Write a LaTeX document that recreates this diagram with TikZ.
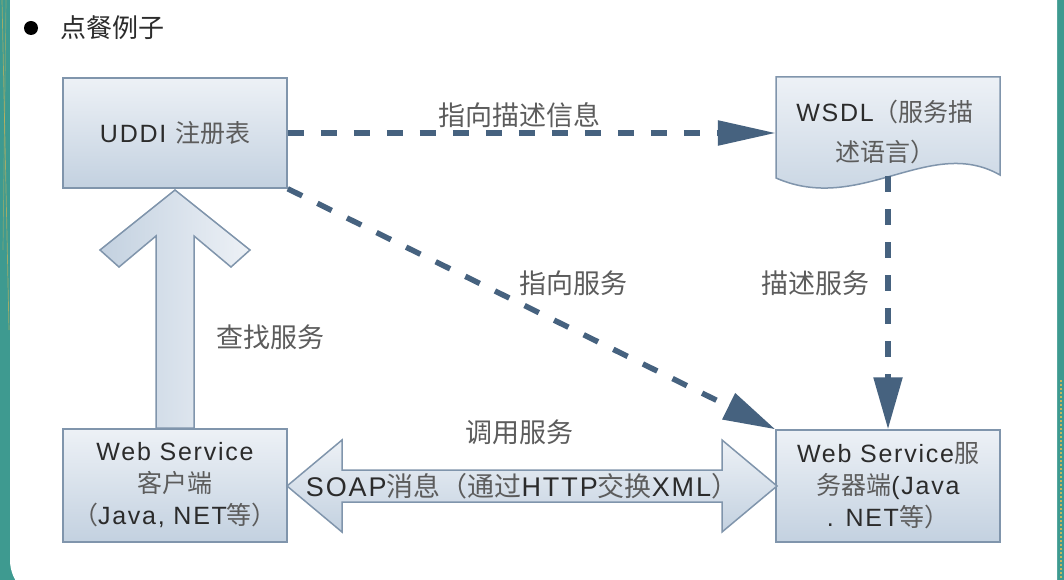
\documentclass[tikz,border=0pt]{standalone}
\usepackage{fontspec}
\setmainfont{Liberation Sans}[LetterSpace=7]
\newfontfamily\cjk{Noto Sans CJK SC}
\usetikzlibrary{arrows.meta}
\definecolor{teal1}{HTML}{3E9A90}
\definecolor{gold1}{HTML}{C9B45A}
\definecolor{arr}{HTML}{46627F}
\definecolor{bord}{HTML}{8095AC}
\definecolor{boxtop}{HTML}{EDF1F6}
\definecolor{boxbot}{HTML}{C3D1E0}
\definecolor{zhgray}{HTML}{5C5C5C}
\definecolor{txt}{HTML}{2B2B2B}
\newcommand\zh[1]{{\cjk\color{zhgray}#1}}
\begin{document}
\begin{tikzpicture}[x=1pt,y=-1pt,
  box/.style={draw=bord,line width=1.5pt,top color=boxtop,bottom color=boxbot,minimum width=224pt,inner sep=0pt,align=center,text=txt,font=\fontsize{25}{32}\selectfont},
  blockarrow/.style={draw=bord,line width=1.5pt},
  lab/.style={font=\cjk\fontsize{27}{30}\selectfont,text=zhgray,inner sep=0pt},
  dasharrow/.style={draw=arr,line width=5.5pt,dash pattern=on 16pt off 17pt,-{Triangle[length=52pt,width=28pt]}}
]
\useasboundingbox (0,0) rectangle (1064,580);
\clip (0,0) rectangle (1064,580);
% background
\fill[teal1] (0,0) rectangle (1064,580);
\draw[gold1,line width=0.7pt,opacity=0.7] (2,0) -- (9,330);
\draw[gold1,line width=0.7pt,opacity=0.5] (6,0) -- (3,250);
\draw[gold1,line width=1.5pt,dash pattern=on 2pt off 2pt] (1061,380) -- (1061,580);
\fill[white] (1057,-10) -- (10,-10) [rounded corners=40pt] -- (10,600) [sharp corners] -- (1057,600) -- cycle;

% title
\node[circle,fill=black,minimum size=14pt,inner sep=0pt] (bul) at (31,28) {};
\node[font=\cjk\fontsize{26}{30}\selectfont,text=txt,anchor=west,inner sep=0pt] (title) at (60,28) {点餐例子};

% boxes
\node[box,minimum height=110pt] (uddi) at (175,133) {UDDI \zh{注册表}};
\node[box,minimum height=113pt] (client) at (175,485.5) {Web Service\\\zh{客户端}\\\zh{（}Java, NET\zh{等）}};
\node[box,minimum height=112pt] (server) at (888,486) {Web Service\zh{服}\\\zh{务器端}(Java\\. NET\zh{等）}};

% WSDL document shape
\path[draw=bord,line width=1.5pt,top color=boxtop,bottom color=boxbot] (776,77) -- (1000,77) -- (1000,175) .. controls (930,135) and (860,215) .. (776,178) -- cycle;
\node[inner sep=0pt,minimum width=224pt,minimum height=101pt] (wsdl) at (888,127.5) {};
\node[align=center,inner sep=0pt,text=txt,font=\fontsize{25}{40}\selectfont] (wsdltext) at (885,132) {WSDL\zh{（服务描}\\\zh{述语言）}};
\coordinate (wsdlb) at (888,176);

% block arrows
\draw[blockarrow,left color=boxbot,right color=boxtop] (156,428) -- (156,236) -- (119,267) -- (100,250) -- (175,190) -- (250,250) -- (231,267) -- (194,236) -- (194,428) -- cycle;
\draw[blockarrow,top color=boxtop,bottom color=boxbot] (287,486) -- (342,440) -- (342,470) -- (722,470) -- (722,440) -- (777,486) -- (722,532) -- (722,502) -- (342,502) -- (342,532) -- cycle;
\node[font=\fontsize{27}{30}\selectfont,text=txt,inner sep=0pt] (soap) at (522,486) {SOAP\zh{消息（通过}HTTP\zh{交换}XML\zh{）}};

% dashed connectors
\draw[dasharrow,-{Triangle[length=58pt,width=24pt]}] (uddi.east) -- (uddi.east -| wsdl.west);
\draw[dasharrow] (uddi.south east) -- (server.north west);
\draw[dasharrow] (wsdlb) -- (server.north);

% labels
\node[lab] (l1) at (519,115) {指向描述信息};
\node[lab] (l2) at (573,283) {指向服务};
\node[lab] (l3) at (815,283) {描述服务};
\node[lab] (l4) at (270,337) {查找服务};
\node[lab] (l5) at (519,432) {调用服务};
\end{tikzpicture}
\end{document}
